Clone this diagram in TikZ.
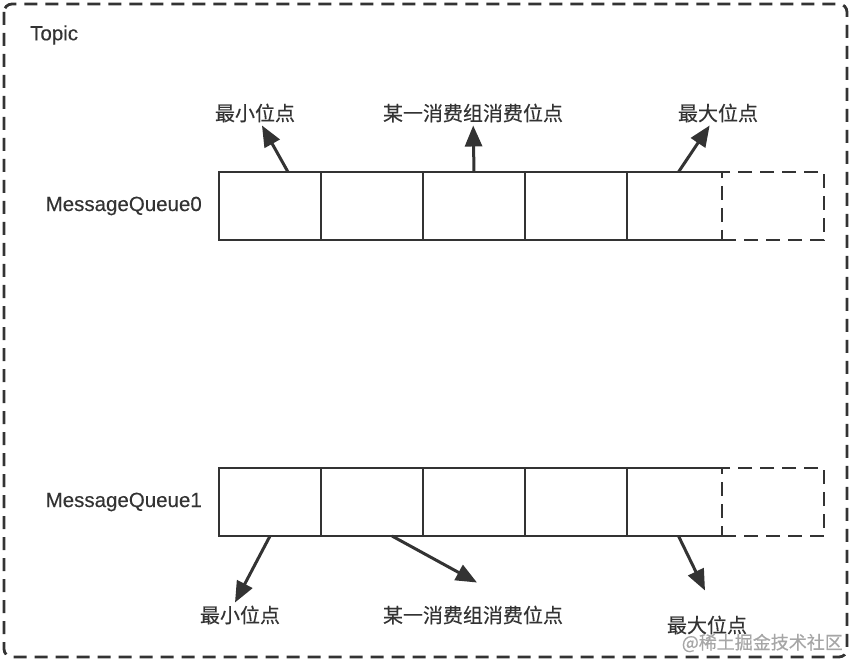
\documentclass[tikz,border=0pt]{standalone}
\usepackage{fontspec}
\setmainfont{Noto Sans CJK SC}[FakeBold=0.4]
\newfontfamily\latinfont{Liberation Sans}[FakeBold=0.3]
\usetikzlibrary{positioning,arrows.meta}
\definecolor{ink}{HTML}{333333}

\begin{document}
\begin{tikzpicture}[x=1pt,y=-1pt,
  cell/.style={draw=ink, line width=2.8pt, minimum width=102pt, minimum height=68pt, inner sep=0pt, outer sep=0pt},
  spare/.style={cell, dash pattern=on 14pt off 8pt},
  lab/.style={font=\fontsize{20}{24}\selectfont, text=ink, inner sep=3pt},
  qname/.style={font=\latinfont\fontsize{20.5}{24}\selectfont, text=ink, inner sep=3pt},
  arr/.style={-{Triangle[length=21pt,width=17pt]}, line width=3pt, draw=ink}]
\useasboundingbox (0,0) rectangle (851,660);

% topic frame
\draw[ink, line width=2.8pt, dash pattern=on 13pt off 8pt, rounded corners=8pt] (4,4) rectangle (847,657);
\node[qname, anchor=west, inner sep=0pt] (topic) at (30,35) {Topic};

% queue 0
\node[cell] (q0c0) at (270,206) {};
\node[cell, right=0pt of q0c0] (q0c1) {};
\node[cell, right=0pt of q0c1] (q0c2) {};
\node[cell, right=0pt of q0c2] (q0c3) {};
\node[cell, draw=none, minimum width=95pt, right=0pt of q0c3] (q0c4) {};
\draw[ink, line width=2.8pt] (q0c4.north east) -- (q0c4.north west) -- (q0c4.south west) -- (q0c4.south east);
\node[spare, right=0pt of q0c4] (q0sp) {};
\node[qname, left=14pt of q0c0] (q0name) {MessageQueue0};

\node[lab] (minA) at (255,113) {最小位点};
\node[lab] (midA) at (473,113) {某一消费组消费位点};
\node[lab] (maxA) at (718,113) {最大位点};
\draw[arr] ([xshift=18pt]q0c0.north) -- (minA);
\draw[arr] (q0c2.north) -- (midA);
\draw[arr] ([xshift=4pt]q0c4.north) -- (maxA);

% queue 1
\node[cell] (q1c0) at (270,502) {};
\node[cell, right=0pt of q1c0] (q1c1) {};
\node[cell, right=0pt of q1c1] (q1c2) {};
\node[cell, right=0pt of q1c2] (q1c3) {};
\node[cell, draw=none, minimum width=95pt, right=0pt of q1c3] (q1c4) {};
\draw[ink, line width=2.8pt] (q1c4.north east) -- (q1c4.north west) -- (q1c4.south west) -- (q1c4.south east);
\node[spare, right=0pt of q1c4] (q1sp) {};
\node[qname, left=14pt of q1c0] (q1name) {MessageQueue1};

\node[lab] (minB) at (240,615) {最小位点};
\node[lab] (midB) at (473,615) {某一消费组消费位点};
\node[lab] (maxB) at (707,625) {最大位点};
\draw[arr] (q1c0.south) -- ([xshift=-5pt]minB.north);
\draw[arr] ([xshift=20pt]q1c1.south) -- ([xshift=4pt,yshift=20pt]midB.north);
\draw[arr] ([xshift=4pt]q1c4.south) -- ([xshift=-2pt,yshift=22pt]maxB.north);

% watermark
\node[font=\fontsize{18}{21}\selectfont, text=black!35, anchor=east, inner sep=0pt] (mark) at (843,643) {@稀土掘金技术社区};
\end{tikzpicture}
\end{document}
